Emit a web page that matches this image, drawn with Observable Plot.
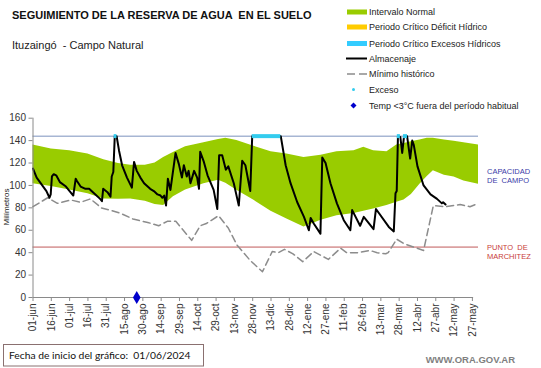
<!DOCTYPE html>
<html>
<head>
<meta charset="utf-8">
<script src="https://cdn.jsdelivr.net/npm/d3@7"></script>
<script src="https://cdn.jsdelivr.net/npm/@observablehq/plot@0.6"></script>
<style>
  html, body { margin: 0; padding: 0; background: #fff; }
  #wrap { position: relative; width: 541px; height: 368px; overflow: hidden; font-family: "Liberation Sans", Arial, sans-serif; }
  #wrap svg.plot { position: absolute; left: 0; top: 0; }
  #overlay { position: absolute; left: 0; top: 0; pointer-events: none; }
  #overlay text { white-space: pre; }
</style>
</head>
<body>
<div id="wrap"></div>
<script>
// ---- data (day index from 01-jun-2024) ----
const tickDays = [0,15,30,45,60,75,90,105,120,135,150,165,180,195,210,225,240,255,270,285,300,315,330,345,360];
const tickLabels = ["01-jun","16-jun","01-jul","16-jul","31-jul","15-ago","30-ago","14-sep","29-sep","14-oct","29-oct","13-nov","28-nov","13-dic","28-dic","12-ene","27-ene","11-feb","26-feb","13-mar","28-mar","12-abr","27-abr","12-may","27-may"];
const yTicks = [0,20,40,60,80,100,120,140,160];

const bandDays  = [0,15,30,45,58,70,80,92,100,107,115,125,140,152,158,167,181,195,208,222,236,249,263,271,279,290,298,304,310,317,323,328,337,345,353,365];
const bandUpper = [136,132.5,131,128,123,119.5,118,118,120,125,129.5,134.5,138,141,142,140,135,130,128,125,127,130,131,134,131,130,136,137.5,139,140.5,142,142,140.5,139.5,138,136];
const bandLower = [101.6,99,96,92.5,88,87.6,88,86,83,82,90,96,101.6,104.6,102,95.6,86.7,77,70,63,69,73,75,77,79,82,85,87,92,101,108,113,109,107.5,104,101];

const almDays = [0,3,7,11,13.5,14.5,15.5,17,19,22,27,33,35,36,39,43,46,50,55,56.5,57.5,61,63.5,64.5,65.8,67,68.5,70.5,73,77,81,82.8,85,88,91,96,99,102,104.5,106,107.5,109,110.5,112.6,116.8,119.5,122,123.6,126,127.5,129,132,134.5,136,137,140,143,148,151,152.5,155,158,160,164.5,168.6,171.4,174,178,179.6,203,207,211,216.5,222,226,227.5,230,235.5,237,239.7,243.7,249,254.6,260,261.5,268,271,279,281,291.5,295.6,297,298,299,301,302.5,304,306.5,309,310.7,312,315,320,325.7,331,335,336,338];
const almValues = [115,107,101,95,89,92,108,110,109,103,99,91,106,104,99,97,97,93,88,86,97,94,90,108,112,144,144,131,118,107,98,121,113,107,102,97,95,92,91,89,91,82,106,96,129,119,107,118,108,113,102,113,107,97,130,121,109,96,79,127,127,114,117,102,82,122,118,95,144,144,118,102,85,72,60,71,66,57,125,120,102,84,69,60,78,64,72,61,79,63,59,93,95,144,143,129,144,144,124,140,136,117,100,92,88,84,85,83];

const minDays   = [0,12,20,31,39,47,56,63,72,82,94,103,110,117,130,137,142,152,160,167,178,188,196,201,206,213,221,230,242,252,257,266,276,282,289,291,298,304,320,328,338,350,358,365];
const minValues = [81,89,84,87,85,88,80,78,75,70,67,64,68,68,51,64,66,73,62,47,33,23,41,40,43,39,32,41,34,44,40,40,42,40,39,40,52,48,42,82,81,83,81,84];

const excessStart = [66.5,179.6,298.5,303.5];
const excessEnd   = [68.8,203,301,306.8];
const frostDays   = [85];
const frostValues = [0];

const capacidadCampo = 144;
const puntoMarchitez = 45;

// ---- tables ----
const band = bandDays.map((d,i) => ({day: d, hi: bandUpper[i], lo: bandLower[i]}));
const alm = almDays.map((d,i) => ({day: d, value: almValues[i]}));
const mins = minDays.map((d,i) => ({day: d, value: minValues[i]}));
const excess = excessStart.map((s,i) => ({start: s, end: excessEnd[i]}));
const frost = frostDays.map((d,i) => ({day: d, value: frostValues[i]}));

const chart = Plot.plot({
  width: 541, height: 368,
  marginLeft: 32.5, marginRight: 63, marginTop: 117.7, marginBottom: 71,
  x: {type: "linear", domain: [0, 365], axis: null},
  y: {domain: [0, 160], axis: null},
  style: {fontFamily: "'Liberation Sans', Arial, sans-serif", background: "transparent", overflow: "visible"},
  marks: [
    Plot.areaY(band, {x: "day", y1: "lo", y2: "hi", fill: "#99cc00"}),
    Plot.ruleY([capacidadCampo], {stroke: "#a7b6d3", strokeWidth: 1.5}),
    Plot.ruleY([puntoMarchitez], {stroke: "#c05a5a", strokeWidth: 1}),
    Plot.line(mins, {x: "day", y: "value", stroke: "#8c8c8c", strokeWidth: 1.5, strokeDasharray: "7,4"}),
    Plot.line(alm, {x: "day", y: "value", stroke: "#000", strokeWidth: 2}),
    Plot.ruleY(excess, {y: capacidadCampo, x1: "start", x2: "end", stroke: "#33ccee", strokeWidth: 4}),
    Plot.ruleX([0], {y1: 0, y2: 160, stroke: "#8a8a8a"}),
    Plot.ruleY([0], {x1: 0, x2: 361, stroke: "#8a8a8a"}),
    Plot.axisY({ticks: yTicks, tickSize: 4, tickPadding: 3, fontSize: 10, label: null, stroke: "#8a8a8a", fill: "#333"}),
    Plot.axisX({ticks: tickDays, tickFormat: (d) => tickLabels[tickDays.indexOf(d)], tickRotate: -90, tickSize: 4, tickPadding: 2, fontSize: 10, label: null, stroke: "#8a8a8a", fill: "#333"}),
    Plot.dot(frost, {x: "day", y: "value", symbol: "diamond", fill: "#0000cc", r: 4})
  ]
});
chart.classList.add("plot");
const wrap = document.getElementById("wrap");
wrap.appendChild(chart);

// ---- overlay texts & legend ----
const legendItems = ["Intervalo Normal","Periodo Crítico Déficit Hídrico","Periodo Crítico Excesos Hídricos","Almacenaje","Mínimo histórico","Exceso","Temp <3°C fuera del período habitual"];
const legendY = [12, 27, 43.5, 58.5, 74, 89.5, 105.5];
const ns = "http://www.w3.org/2000/svg";
const ov = document.createElementNS(ns, "svg");
ov.setAttribute("id", "overlay");
ov.setAttribute("width", 541); ov.setAttribute("height", 368);
function el(tag, attrs, text) {
  const e = document.createElementNS(ns, tag);
  for (const k in attrs) e.setAttribute(k, attrs[k]);
  if (text != null) e.textContent = text;
  ov.appendChild(e);
  return e;
}
el("text", {x: 12, y: 18.5, "font-size": 11, "font-weight": "bold", fill: "#111", "font-family": "Liberation Sans, Arial"}, "SEGUIMIENTO DE LA RESERVA DE AGUA  EN EL SUELO");
el("text", {x: 12, y: 49, "font-size": 11, fill: "#222", "font-family": "Liberation Sans, Arial"}, "Ituzaingó  - Campo Natural");
// legend swatches
el("rect", {x: 347, y: legendY[0]-2.5, width: 20, height: 5, fill: "#99cc00"});
el("rect", {x: 347, y: legendY[1]-2.5, width: 20, height: 5, fill: "#ffcc00"});
el("rect", {x: 347, y: legendY[2]-2.5, width: 20, height: 5, fill: "#33ccff"});
el("line", {x1: 346, x2: 367, y1: legendY[3], y2: legendY[3], stroke: "#000", "stroke-width": 2});
el("line", {x1: 347, x2: 367, y1: legendY[4], y2: legendY[4], stroke: "#8c8c8c", "stroke-width": 1.5, "stroke-dasharray": "8,4"});
el("circle", {cx: 353.5, cy: legendY[5], r: 1.5, fill: "#33ccee"});
el("path", {d: `M353.5,${legendY[6]-3}L356.5,${legendY[6]}L353.5,${legendY[6]+3}L350.5,${legendY[6]}Z`, fill: "#0000cc"});
legendItems.forEach((t, i) => {
  el("text", {x: 369, y: legendY[i] + 3, "font-size": 9, fill: "#222", "font-family": "Liberation Sans, Arial"}, t);
});
// right labels
el("text", {x: 487, y: 173.5, "font-size": 7.5, fill: "#3b3ba8", "font-family": "Liberation Sans, Arial"}, "CAPACIDAD");
el("text", {x: 487, y: 183, "font-size": 7.5, fill: "#3b3ba8", "font-family": "Liberation Sans, Arial"}, "DE  CAMPO");
el("text", {x: 487, y: 249.5, "font-size": 7.5, fill: "#c8403a", "font-family": "Liberation Sans, Arial"}, "PUNTO  DE");
el("text", {x: 487, y: 259, "font-size": 7.5, fill: "#c8403a", "font-family": "Liberation Sans, Arial"}, "MARCHITEZ");
// y label
el("text", {transform: "translate(9,207) rotate(-90)", "text-anchor": "middle", "font-size": 8, fill: "#222", "font-family": "Liberation Sans, Arial"}, "Milímetros");
// footer
el("rect", {x: 3.5, y: 344.5, width: 200, height: 21.5, fill: "#fff", stroke: "#8a7070", "stroke-width": 1});
el("text", {x: 9, y: 359, "font-size": 10.3, fill: "#111", "font-family": "Lato, Liberation Sans, Arial"}, "Fecha de inicio del gráfico:  01/06/2024");
el("text", {x: 515, y: 363, "text-anchor": "end", "font-size": 9.5, "font-weight": "bold", fill: "#7f7f7f", "font-family": "Liberation Sans, Arial"}, "WWW.ORA.GOV.AR");
wrap.appendChild(ov);
</script>
</body>
</html>
